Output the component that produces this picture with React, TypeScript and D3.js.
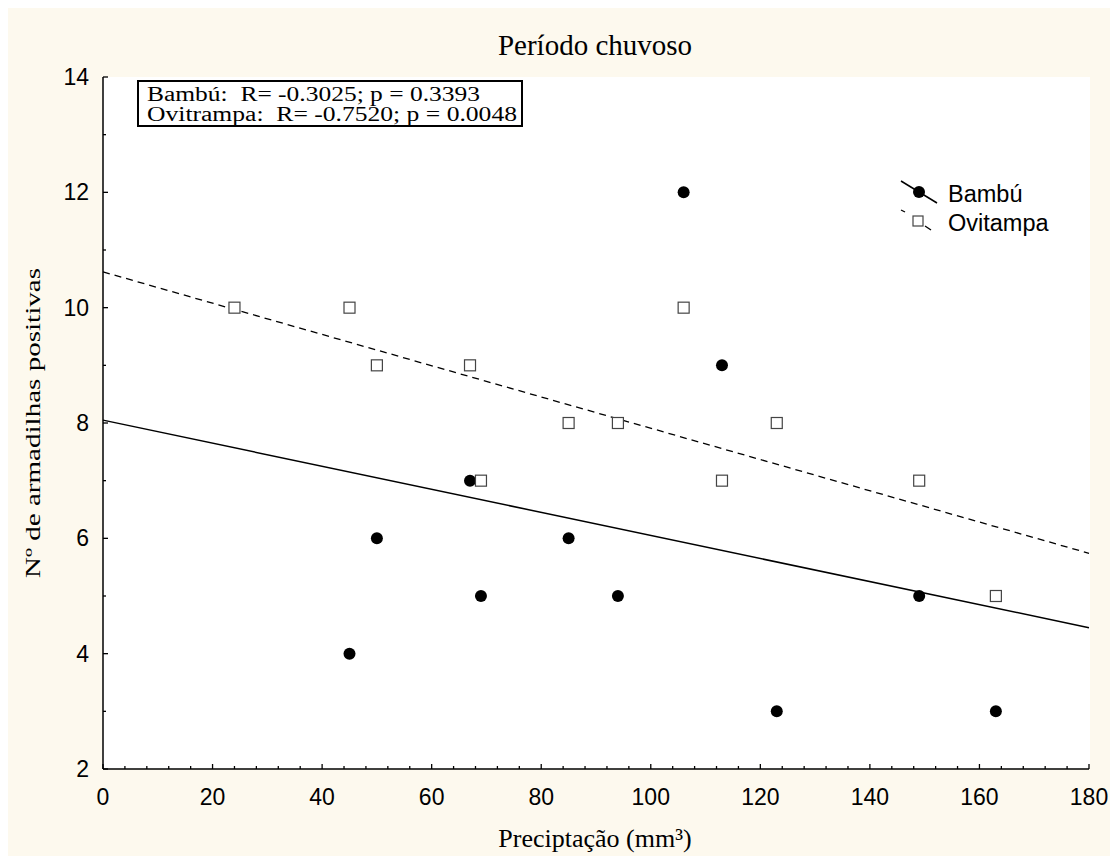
import React from "react";
import * as d3 from "d3";

const bambuX = [45, 50, 67, 69, 85, 94, 106, 113, 123, 149, 163];
const bambuY = [4, 6, 7, 5, 6, 5, 12, 9, 3, 5, 3];
const oviX = [24, 45, 50, 67, 69, 85, 94, 106, 113, 123, 149, 163];
const oviY = [10, 10, 9, 9, 7, 8, 8, 10, 7, 8, 7, 5];
// regression line endpoints (x=0 and x=180)
const bambuFit = [8.05, 4.45];
const oviFit = [10.62, 5.74];
const xTicks = [0, 20, 40, 60, 80, 100, 120, 140, 160, 180];
const yTicks = [2, 4, 6, 8, 10, 12, 14];
const statLines = [
  "Bambú:  R= -0.3025; p = 0.3393",
  "Ovitrampa:  R= -0.7520; p = 0.0048",
];
const statWidths = [333, 370];
const legendLabels = ["Bambú", "Ovitampa"];

const W = 1110;
const H = 848;
const OX = 8;
const OY = 8;
const left = 103 - OX;
const right = 1089 - OX;
const top = 77 - OY;
const bottom = 769 - OY;

export default function App() {
  const x = d3.scaleLinear().domain([0, 180]).range([left, right]);
  const y = d3.scaleLinear().domain([2, 14]).range([bottom, top]);
  const minorX = d3.range(0, 181, 4);
  const minorY = d3.range(2, 14.01, 1);
  const line = d3
    .line<[number, number]>()
    .x((d) => x(d[0]))
    .y((d) => y(d[1]));
  const serif = "'Liberation Serif', 'Times New Roman', serif";
  const sans = "'Liberation Sans', Arial, sans-serif";
  return (
    <svg width={W} height={H} style={{ display: "block" }}>
      <rect x={0} y={0} width={W} height={H} fill="#fdf9ee" />
      <rect x={left} y={top} width={right - left + 1} height={bottom - top} fill="#ffffff" />
      {/* regression lines */}
      <path d={line([[0, bambuFit[0]], [180, bambuFit[1]]])!} stroke="#000" strokeWidth={1.5} fill="none" />
      <path
        d={line([[0, oviFit[0]], [180, oviFit[1]]])!}
        stroke="#000"
        strokeWidth={1.3}
        strokeDasharray="7,5"
        fill="none"
      />
      {/* axes */}
      <line x1={left} x2={left} y1={top} y2={bottom} stroke="#000" strokeWidth={1.5} />
      <line x1={left} x2={right} y1={bottom} y2={bottom} stroke="#000" strokeWidth={1.5} />
      {minorX.map((v) => (
        <line key={"mx" + v} x1={x(v)} x2={x(v)} y1={bottom} y2={bottom - (v % 20 === 0 ? 5 : 3)} stroke="#000" strokeWidth={1.3} />
      ))}
      {minorY.map((v) => (
        <line key={"my" + v} x1={left} x2={left + (v % 2 === 0 ? 5 : 3)} y1={y(v)} y2={y(v)} stroke="#000" strokeWidth={1.3} />
      ))}
      {xTicks.map((v) => (
        <text key={"xt" + v} x={x(v)} y={bottom + 36} textAnchor="middle" fontFamily={sans} fontSize={23} fill="#000">
          {v}
        </text>
      ))}
      {yTicks.map((v) => (
        <text key={"yt" + v} x={left - 14} y={y(v) + 8} textAnchor="end" fontFamily={sans} fontSize={23} fill="#000">
          {v}
        </text>
      ))}
      {/* points */}
      {bambuX.map((v, i) => (
        <circle key={"b" + i} cx={x(v)} cy={y(bambuY[i])} r={6} fill="#000" />
      ))}
      {oviX.map((v, i) => (
        <rect
          key={"o" + i}
          x={x(v) - 5.5}
          y={y(oviY[i]) - 5.5}
          width={11}
          height={11}
          fill="#fff"
          stroke="#444"
          strokeWidth={1.2}
        />
      ))}
      {/* stats box */}
      <rect x={138 - OX} y={81 - OY} width={384} height={45} fill="#fff" stroke="#000" strokeWidth={2} />
      {statLines.map((s, i) => (
        <text
          key={"s" + i}
          x={147 - OX}
          y={100.5 - OY + i * 20}
          fontFamily={serif}
          fontSize={20}
          fill="#000"
          textLength={statWidths[i]}
          lengthAdjust="spacingAndGlyphs"
          style={{ whiteSpace: "pre" }}
        >
          {s}
        </text>
      ))}
      {/* legend */}
      <g>
        <line x1={901 - OX} y1={181 - OY} x2={937 - OX} y2={203 - OY} stroke="#000" strokeWidth={1.5} />
        <circle cx={919 - OX} cy={192 - OY} r={6} fill="#000" />
        <line x1={901 - OX} y1={210 - OY} x2={905 - OX} y2={212 - OY} stroke="#000" strokeWidth={1.3} />
        <line x1={925 - OX} y1={226 - OY} x2={931 - OX} y2={230 - OY} stroke="#000" strokeWidth={1.3} />
        <rect x={913 - OX} y={216 - OY} width={10} height={10} fill="#fff" stroke="#444" strokeWidth={1.2} />
        <text x={948 - OX} y={202 - OY} fontFamily={sans} fontSize={23.5} fill="#000">
          {legendLabels[0]}
        </text>
        <text x={948 - OX} y={231 - OY} fontFamily={sans} fontSize={23.5} fill="#000">
          {legendLabels[1]}
        </text>
      </g>
      {/* titles */}
      <text x={595 - OX} y={55 - OY} textAnchor="middle" fontFamily={serif} fontSize={29} fill="#000">
        Período chuvoso
      </text>
      <text x={595 - OX} y={847 - OY} textAnchor="middle" fontFamily={serif} fontSize={26} fill="#000">
        Preciptação (mm³)
      </text>
      <text
        transform={`translate(${40 - OX},${423 - OY}) rotate(-90)`}
        x={-155}
        fontFamily={serif}
        fontSize={22}
        fill="#000"
        textLength={310}
        lengthAdjust="spacingAndGlyphs"
      >
        Nº de armadilhas positivas
      </text>
    </svg>
  );
}
